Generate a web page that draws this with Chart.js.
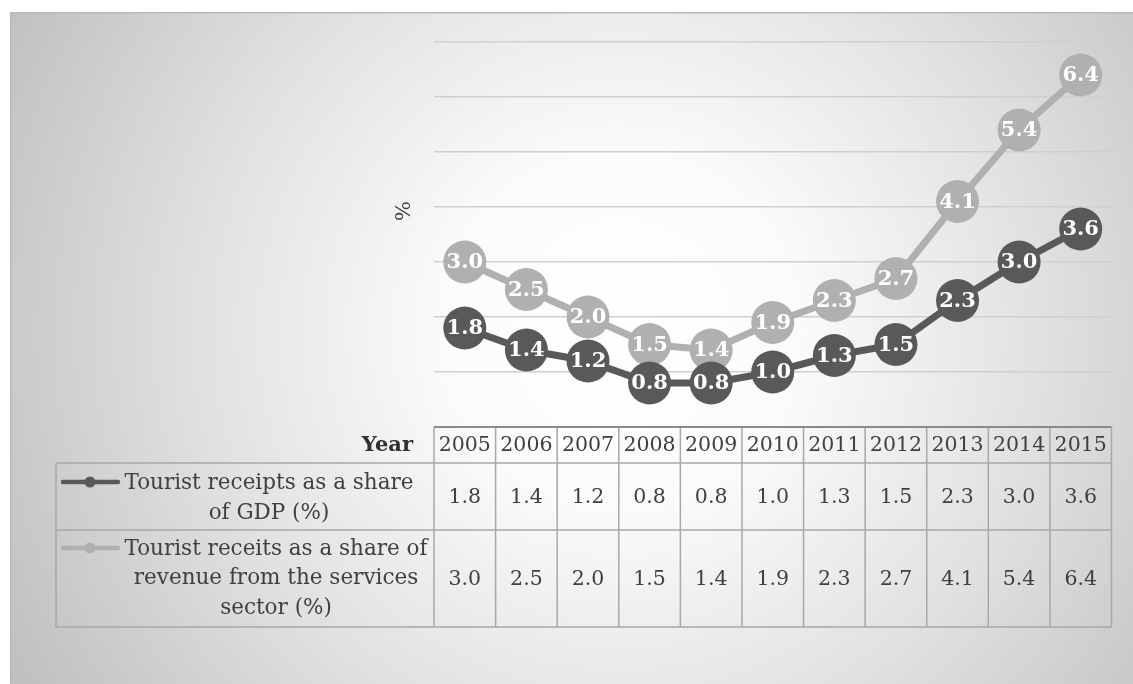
<!DOCTYPE html>
<html>
<head>
<meta charset="utf-8">
<style>
  html, body { margin: 0; padding: 0; background: #ffffff; }
  #wrap { width: 1133px; height: 684px; position: relative; }
  canvas { display: block; }
</style>
<script src="https://cdn.jsdelivr.net/npm/chart.js@4.4.1/dist/chart.umd.min.js"></script>
</head>
<body>
<div id="wrap"><canvas id="chart" width="1133" height="684"></canvas></div>
<script>
// Years along the category axis (also the header row of the data table)
const years = ['2005', '2006', '2007', '2008', '2009', '2010', '2011', '2012', '2013', '2014', '2015'];

// Tourist receipts as a share of GDP (%)
const gdpShare = [1.8, 1.4, 1.2, 0.8, 0.8, 1.0, 1.3, 1.5, 2.3, 3.0, 3.6];

// Tourist receipts as a share of revenue from the services sector (%)
const servicesShare = [3.0, 2.5, 2.0, 1.5, 1.4, 1.9, 2.3, 2.7, 4.1, 5.4, 6.4];

// Series names as they wrap inside the data table
const gdpName = ['Tourist receipts as a share', 'of GDP (%)'];
const servicesName = ['Tourist receits as a share of', 'revenue from the services', 'sector (%)'];

// Value axis range
const yMin = 0;
const yMax = 7;
const yStep = 1;

const DARK = '#595959';
const LIGHT = '#b0b0b0';
const TEXT = '#404040';
const FONT = '"DejaVu Serif", "Liberation Serif", serif';

// Plot frame background: soft radial fill, light in the middle
const backdrop = {
  id: 'backdrop',
  beforeDraw(chart) {
    const ctx = chart.ctx;
    const W = chart.width, H = chart.height;
    ctx.save();
    ctx.fillStyle = '#ffffff';
    ctx.fillRect(0, 0, W, H);
    const g = ctx.createRadialGradient(620, 330, 0, 620, 330, 700);
    g.addColorStop(0, '#ffffff');
    g.addColorStop(0.25, '#fbfbfb');
    g.addColorStop(0.6, '#e1e1e1');
    g.addColorStop(1, '#bfbfbf');
    ctx.fillStyle = g;
    ctx.fillRect(10, 12, W - 10, H - 12);
    ctx.strokeStyle = '#b9b9b9';
    ctx.lineWidth = 1.5;
    ctx.beginPath();
    ctx.moveTo(10.75, H);
    ctx.lineTo(10.75, 12.75);
    ctx.lineTo(W, 12.75);
    ctx.stroke();
    ctx.restore();
  }
};

// Value labels inside each marker, drawn right after their own series
const pointLabels = {
  id: 'pointLabels',
  afterDatasetDraw(chart, args) {
    const ctx = chart.ctx;
    const ds = chart.data.datasets[args.index];
    ctx.save();
    ctx.fillStyle = '#ffffff';
    ctx.font = 'bold 21px ' + FONT;
    ctx.textAlign = 'center';
    ctx.textBaseline = 'middle';
    args.meta.data.forEach((pt, i) => {
      ctx.fillText(ds.data[i].toFixed(1), pt.x, pt.y + 1);
    });
    ctx.restore();
  }
};

// Axis title and the data table under the plot
const dataTable = {
  id: 'dataTable',
  afterDraw(chart) {
    const ctx = chart.ctx;
    const x = chart.scales.x;
    const area = chart.chartArea;
    const n = years.length;
    const colW = (area.right - area.left) / n;
    const left = 56;
    const top = area.bottom;
    const headB = top + 36;
    const row1B = 530;
    const row2B = 627;

    ctx.save();

    // "%" axis title
    ctx.save();
    ctx.translate(405, 211);
    ctx.rotate(-Math.PI / 2);
    ctx.fillStyle = TEXT;
    ctx.font = '21px ' + FONT;
    ctx.textAlign = 'center';
    ctx.textBaseline = 'middle';
    ctx.fillText('%', 0, 0);
    ctx.restore();

    // table grid
    ctx.strokeStyle = '#a8a8a8';
    ctx.lineWidth = 1.5;
    ctx.beginPath();
    [headB, row1B, row2B].forEach(y => {
      ctx.moveTo(left, y);
      ctx.lineTo(area.right, y);
    });
    ctx.moveTo(left, headB);
    ctx.lineTo(left, row2B);
    for (let i = 0; i <= n; i++) {
      const cx = area.left + i * colW;
      ctx.moveTo(cx, top);
      ctx.lineTo(cx, row2B);
    }
    ctx.stroke();

    // category axis line along the top of the table
    ctx.strokeStyle = '#8a8a8a';
    ctx.lineWidth = 2;
    ctx.beginPath();
    ctx.moveTo(area.left, top);
    ctx.lineTo(area.right, top);
    ctx.stroke();

    // header row
    ctx.textBaseline = 'middle';
    ctx.font = 'bold 21px ' + FONT;
    ctx.textAlign = 'right';
    ctx.fillStyle = '#303030';
    ctx.fillText('Year', 413, 446);
    ctx.fillStyle = TEXT;
    ctx.font = '20.5px ' + FONT;
    ctx.textAlign = 'center';
    years.forEach((yr, i) => {
      ctx.fillText(yr, x.getPixelForValue(i), 446);
    });

    // values
    ctx.font = '20.5px ' + FONT;
    const rowMid1 = (headB + row1B) / 2;
    const rowMid2 = (row1B + row2B) / 2;
    gdpShare.forEach((v, i) => ctx.fillText(v.toFixed(1), x.getPixelForValue(i), rowMid1 + 1));
    servicesShare.forEach((v, i) => ctx.fillText(v.toFixed(1), x.getPixelForValue(i), rowMid2 + 1));

    // series names
    ctx.font = '21.5px ' + FONT;
    gdpName.forEach((t, k) => ctx.fillText(t, 269, 483 + k * 30));
    servicesName.forEach((t, k) => ctx.fillText(t, 276, 549 + k * 29.5));

    // legend keys
    const key = (y, color) => {
      ctx.strokeStyle = color;
      ctx.fillStyle = color;
      ctx.lineWidth = 4.5;
      ctx.lineCap = 'round';
      ctx.beginPath();
      ctx.moveTo(63, y);
      ctx.lineTo(118, y);
      ctx.stroke();
      ctx.beginPath();
      ctx.arc(90, y, 5.5, 0, Math.PI * 2);
      ctx.fill();
    };
    key(482, DARK);
    key(548, LIGHT);

    ctx.restore();
  }
};

new Chart(document.getElementById('chart'), {
  type: 'line',
  data: {
    labels: years,
    datasets: [
      {
        label: gdpName.join(' '),
        data: gdpShare,
        borderColor: DARK,
        backgroundColor: DARK,
        pointBackgroundColor: DARK,
        borderWidth: 7,
        pointRadius: 21.5,
        pointHoverRadius: 21.5,
        pointBorderWidth: 0,
        tension: 0,
        clip: false
      },
      {
        label: servicesName.join(' '),
        data: servicesShare,
        borderColor: LIGHT,
        backgroundColor: LIGHT,
        pointBackgroundColor: LIGHT,
        borderWidth: 7,
        pointRadius: 21.5,
        pointHoverRadius: 21.5,
        pointBorderWidth: 0,
        tension: 0,
        clip: false
      }
    ]
  },
  options: {
    responsive: false,
    animation: false,
    devicePixelRatio: 1,
    events: [],
    layout: { padding: { left: 434, right: 17, top: 42, bottom: 257 } },
    plugins: {
      legend: { display: false },
      tooltip: { enabled: false },
      title: { display: false }
    },
    scales: {
      x: {
        type: 'category',
        offset: true,
        display: false
      },
      y: {
        min: yMin,
        max: yMax,
        ticks: { display: false, stepSize: yStep },
        border: { display: false },
        grid: {
          drawTicks: false,
          tickLength: 0,
          lineWidth: 1.5,
          color: ctx => (ctx.tick && ctx.tick.value === yMin ? 'rgba(0,0,0,0)' : '#cfcfcf')
        },
        afterFit: s => { s.width = 0; }
      }
    }
  },
  plugins: [backdrop, pointLabels, dataTable]
});
</script>
</body>
</html>
